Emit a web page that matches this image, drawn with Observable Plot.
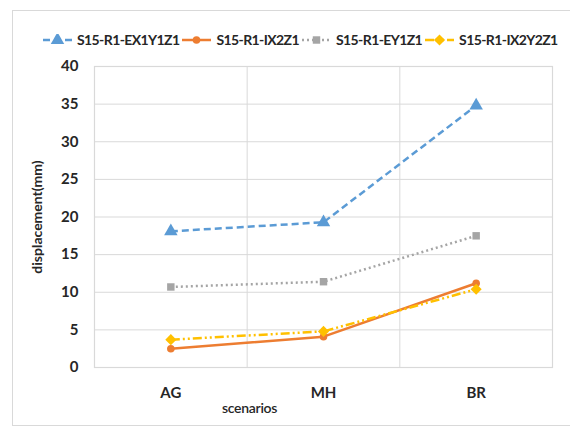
<!DOCTYPE html>
<html><head><meta charset="utf-8">
<script src="https://cdn.jsdelivr.net/npm/d3@7"></script>
<script src="https://cdn.jsdelivr.net/npm/@observablehq/plot@0.6"></script>
<style>
body{margin:0;background:#fff;}
#wrap{position:relative;width:570px;height:426px;overflow:hidden;font-family:Lato,"Open Sans",sans-serif;}
#border{position:absolute;left:12px;top:10px;width:600px;height:414px;border:1px solid #d9d9d9;}
#legend{position:absolute;top:31px;left:42px;display:flex;align-items:center;font-weight:bold;font-size:14px;letter-spacing:-0.6px;color:#262626;white-space:nowrap;}
#legend .item{display:flex;align-items:center;margin-right:2px;}
#legend svg{margin-right:4px;}
#xlabel{position:absolute;left:222px;top:399px;font-size:14px;font-weight:600;color:#262626;letter-spacing:-0.3px;}
#chart{position:absolute;left:0;top:0;}
</style></head>
<body><div id="wrap"><div id="border"></div><div id="chart"></div><div id="legend"></div><div id="xlabel">scenarios</div></div>
<script>
const scenarios = ["AG", "MH", "BR"];
const seriesNames = ["S15-R1-EX1Y1Z1", "S15-R1-IX2Z1", "S15-R1-EY1Z1", "S15-R1-IX2Y2Z1"];
const ex1y1z1 = [18.1, 19.3, 34.8];
const ix2z1 = [2.5, 4.1, 11.2];
const ey1z1 = [10.7, 11.4, 17.5];
const ix2y2z1 = [3.7, 4.8, 10.4];
const yTicks = [0, 5, 10, 15, 20, 25, 30, 35, 40];

const colors = ["#5b9bd5", "#ed7d31", "#a5a5a5", "#ffc000"];
const dashes = ["7,4", null, "2,3", "9,3,2,3,2,3"];
const symbols = ["triangle", "circle", "square", "diamond2"];
const sizes = [5, 3.8, 4.2, 5];
const values = [ex1y1z1, ix2z1, ey1z1, ix2y2z1];

const data = seriesNames.flatMap((s, k) => values[k].map((v, i) => ({series: s, k, i, scenario: scenarios[i], value: v})));
const boundaries = scenarios.slice(0, -1).map((d, i) => i + 0.5);

const marks = [
  Plot.gridY(yTicks, {stroke: "#d9d9d9", strokeOpacity: 1, strokeWidth: 1}),
  Plot.ruleX(boundaries, {stroke: "#d9d9d9", strokeWidth: 1}),
  Plot.frame({stroke: "#d9d9d9", strokeWidth: 1.2}),
  Plot.axisY(yTicks, {tickSize: 0, tickPadding: 16, fontSize: 15, fontWeight: "bold", fill: "#262626",
    label: "displacement(mm)", labelAnchor: "center", labelOffset: 62, labelArrow: "none"}),
  Plot.axisX([0, 1, 2], {tickSize: 0, tickPadding: 20, fontSize: 15, fontWeight: "bold", fill: "#262626",
    tickFormat: i => scenarios[i], label: null})
];
seriesNames.forEach((s, k) => {
  const d = data.filter(r => r.k === k);
  marks.push(Plot.line(d, {x: "i", y: "value", stroke: colors[k], strokeWidth: 2.5, strokeDasharray: dashes[k], strokeLinecap: "butt"}));
  marks.push(Plot.dot(d, {x: "i", y: "value", fill: colors[k], stroke: "none", symbol: () => symbols[k], r: sizes[k]}));
});

const chart = Plot.plot({
  width: 570, height: 426,
  marginTop: 66, marginBottom: 59, marginLeft: 94, marginRight: 18,
  style: {background: "transparent", fontFamily: "Lato, 'Open Sans', sans-serif", overflow: "visible"},
  x: {type: "linear", domain: [-0.5, 2.5], axis: null},
  y: {domain: [0, 40], axis: null},
  marks
});
document.getElementById("chart").appendChild(chart);
chart.querySelectorAll("g[aria-label='y-axis label'] text, g[aria-label='y-axis label']").forEach(e => {e.setAttribute("font-size", "14"); e.setAttribute("font-weight", "bold");});

const legend = document.getElementById("legend");
seriesNames.forEach((s, k) => {
  const item = document.createElement("div");
  item.className = "item";
  const w = 31;
  const sym = d3.symbol(d3["symbol" + {triangle: "Triangle", circle: "Circle", square: "Square", diamond2: "Diamond2"}[symbols[k]]], Math.PI * sizes[k] * sizes[k])();
  item.innerHTML = `<svg width="${w}" height="12"><line x1="1" x2="${w - 1}" y1="6" y2="6" stroke="${colors[k]}" stroke-width="2.5" ${dashes[k] ? `stroke-dasharray="${dashes[k]}"` : ""}/><path d="${sym}" transform="translate(${w / 2},6)" fill="${colors[k]}"/></svg><span>${s}</span>`;
  legend.appendChild(item);
});
</script></body></html>
